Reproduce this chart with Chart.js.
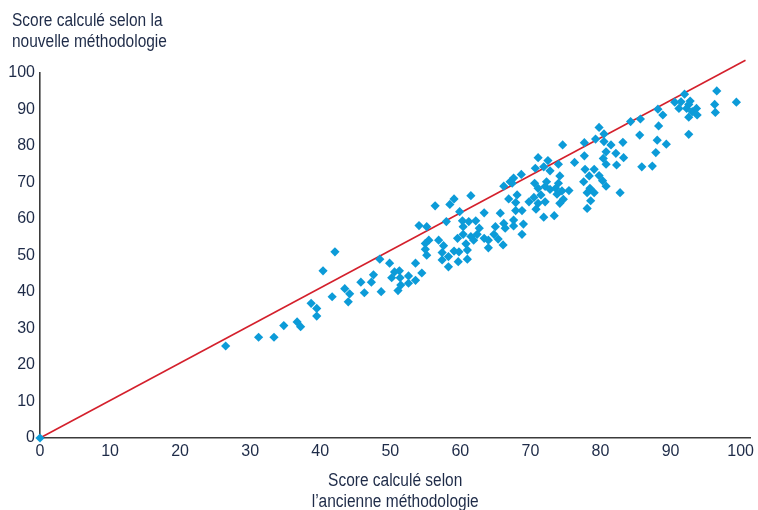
<!DOCTYPE html>
<html>
<head>
<meta charset="utf-8">
<script src="https://cdn.jsdelivr.net/npm/chart.js@4"></script>
<style>
  html, body { margin: 0; padding: 0; background: #fff; }
  #wrap { width: 758px; height: 510px; }
</style>
</head>
<body>
<div id="wrap"><canvas id="chart" width="758" height="510"></canvas></div>
<script>
// Score per country: old methodology (x) vs new methodology (y)
const oldScores = [
  0,
  26.5, 31.2, 33.4, 34.8, 36.7, 37.2, 38.7, 39.5, 39.5, 40.4,
  42.1, 41.7, 43.5, 44.2, 44.0, 45.8, 46.3, 47.3, 47.6, 48.5,
  48.7, 49.9, 50.6, 51.3, 50.2, 51.4, 51.5, 51.1, 52.6, 52.6,
  53.6, 53.6, 54.5, 55.0, 55.2, 55.0, 55.5, 54.1, 55.2, 56.4,
  56.9, 57.4, 57.4, 57.6, 58.0, 58.3, 58.3, 58.5, 59.1, 59.1,
  59.6, 59.8, 59.7, 59.9, 60.3, 60.4, 60.4, 60.8, 61.0, 61.2,
  61.0, 61.5, 61.5, 61.9, 62.2, 62.4, 62.7, 63.4, 63.4, 64.0,
  64.0, 64.8, 65.0, 65.4, 65.7, 66.1, 66.2, 66.2, 66.4, 79.8,
  80.5, 79.3, 80.5, 77.7, 74.6, 81.5, 83.2, 80.8, 82.2, 77.7,
  80.4, 83.3, 71.1, 72.5, 74.0, 76.3, 80.8, 82.3, 70.7, 71.9,
  72.8, 77.8, 79.1, 68.7, 67.6, 67.1, 67.4, 74.2, 78.4, 79.8,
  77.6, 80.3, 72.3, 70.6, 74.0, 80.8, 71.1, 72.1, 72.8, 73.6,
  74.5, 75.5, 78.5, 78.1, 79.1, 68.1, 66.9, 69.8, 70.5, 71.5,
  73.8, 74.7, 72.1, 71.1, 74.2, 82.8, 78.6, 67.9, 70.8, 68.8,
  67.9, 78.1, 71.9, 73.4, 67.6, 69.0, 67.6, 68.8, 96.6, 92.0,
  90.6, 91.5, 92.8, 92.6, 92.3, 91.2, 93.1, 93.7, 93.8, 92.6,
  96.3, 96.4, 99.4, 88.2, 88.9, 85.7, 84.3, 88.3, 85.6, 92.6,
  88.1, 89.4, 87.9, 85.9, 87.4
];
const newScores = [
  0,
  25.2, 27.6, 27.6, 30.8, 31.8, 30.5, 36.9, 35.5, 33.4, 45.8,
  51.0, 38.7, 40.9, 39.5, 37.3, 42.7, 39.8, 42.7, 44.7, 49.0,
  40.1, 47.9, 45.5, 45.8, 43.9, 43.9, 41.9, 40.4, 44.4, 42.4,
  47.9, 43.2, 45.2, 53.3, 50.1, 51.7, 54.2, 58.2, 57.9, 63.6,
  54.2, 50.8, 48.8, 52.7, 59.3, 49.7, 46.9, 64.0, 65.5, 51.2,
  54.7, 51.0, 48.3, 62.0, 59.5, 57.9, 55.8, 53.2, 49.0, 59.3,
  51.5, 66.4, 55.2, 54.2, 59.5, 55.8, 57.5, 61.7, 54.7, 52.1,
  54.2, 55.8, 57.9, 54.5, 61.6, 52.9, 58.8, 69.0, 57.5, 85.1,
  83.3, 81.9, 81.2, 80.9, 80.3, 80.3, 81.0, 78.4, 78.0, 77.3,
  76.6, 76.8, 76.8, 76.0, 75.0, 75.5, 75.0, 74.8, 73.9, 74.3,
  73.2, 73.6, 73.6, 72.2, 71.2, 70.2, 69.8, 71.8, 71.8, 71.9,
  70.2, 70.5, 70.2, 69.8, 69.8, 69.0, 68.4, 68.9, 68.1, 68.4,
  67.7, 67.8, 68.4, 67.2, 67.2, 66.6, 65.5, 64.7, 65.9, 66.6,
  66.8, 65.4, 64.7, 64.3, 64.3, 67.2, 65.0, 64.5, 62.7, 62.3,
  62.3, 62.9, 60.5, 60.9, 59.7, 58.6, 58.1, 55.8, 95.1, 94.2,
  92.0, 92.1, 92.3, 91.4, 90.3, 90.3, 89.4, 90.3, 88.5, 87.9,
  91.4, 89.2, 92.0, 90.1, 88.5, 87.4, 86.7, 85.5, 83.0, 83.2,
  81.6, 80.5, 78.2, 74.3, 74.5
];

// Reference line (drawn in red)
const lineX = [0, 100.7];
const lineY = [0, 103.5];

const xTicks = [0, 10, 20, 30, 40, 50, 60, 70, 80, 90, 100];
const yTicks = [0, 10, 20, 30, 40, 50, 60, 70, 80, 90, 100];

const yTitle = ['Score calculé selon la', 'nouvelle méthodologie'];
const xTitle = ['Score calculé selon', 'l\u2019ancienne méthodologie'];

const FONT = "'Liberation Sans', sans-serif";
const TEXT = '#1e2b48';
const BLUE = '#0c9bd8';
const RED = '#d4202c';
const AXIS = '#3b3b3b';
const SQUEEZE = 0.86; // the original uses a condensed face

const points = oldScores.map((x, i) => ({ x: x, y: newScores[i] }));
const linePts = lineX.map((x, i) => ({ x: x, y: lineY[i] }));

// write a line of text squeezed horizontally around its anchor
function narrowText(ctx, text, x, y, align) {
  ctx.save();
  ctx.translate(x, y);
  ctx.scale(SQUEEZE, 1);
  ctx.textAlign = align;
  ctx.fillText(text, 0, 0);
  ctx.restore();
}

// axis titles drawn by hand, the y one sits horizontally above the axis
const titlesPlugin = {
  id: 'titles',
  afterDraw(chart) {
    const ctx = chart.ctx;
    const area = chart.chartArea;
    ctx.save();
    ctx.fillStyle = TEXT;
    ctx.font = '18px ' + FONT;
    ctx.textBaseline = 'alphabetic';
    narrowText(ctx, yTitle[0], 12, 26, 'left');
    narrowText(ctx, yTitle[1], 12, 47, 'left');
    const cx = (area.left + area.right) / 2;
    narrowText(ctx, xTitle[0], cx, 486, 'center');
    narrowText(ctx, xTitle[1], cx, 507, 'center');
    ctx.restore();
  }
};

new Chart(document.getElementById('chart'), {
  type: 'scatter',
  data: {
    datasets: [
      {
        label: 'Pays',
        data: points,
        pointStyle: 'rectRot',
        pointRadius: 4.6,
        pointHoverRadius: 4.6,
        pointBorderWidth: 0,
        backgroundColor: BLUE,
        borderColor: BLUE,
        clip: false,
        order: 0,
      },
      {
        label: 'Ligne',
        type: 'line',
        data: linePts,
        borderColor: RED,
        borderWidth: 1.6,
        pointRadius: 0,
        fill: false,
        clip: false,
        order: 1,
      }
    ]
  },
  options: {
    responsive: false,
    maintainAspectRatio: false,
    devicePixelRatio: 1,
    animation: false,
    layout: {
      padding: { top: 73, right: 4, left: 0, bottom: 0 }
    },
    plugins: {
      legend: { display: false },
      tooltip: { enabled: false },
      title: { display: false }
    },
    scales: {
      x: {
        type: 'linear',
        min: 0,
        max: 101.4,
        afterFit: function (scale) { scale.height = 72; },
        afterBuildTicks: function (scale) {
          scale.ticks = xTicks.map(v => ({ value: v }));
        },
        ticks: {
          color: TEXT,
          font: { family: FONT, size: 16 },
          padding: 4,
          maxRotation: 0,
          autoSkip: false,
        },
        grid: { display: false, drawTicks: false },
        border: { display: true, color: AXIS, width: 1.6 },
      },
      y: {
        type: 'linear',
        min: 0,
        max: 100,
        afterFit: function (scale) { scale.width = 40; },
        afterBuildTicks: function (scale) {
          scale.ticks = yTicks.map(v => ({ value: v }));
        },
        ticks: {
          color: TEXT,
          font: { family: FONT, size: 16 },
          padding: 5,
          autoSkip: false,
        },
        grid: { display: false, drawTicks: false },
        border: { display: true, color: AXIS, width: 1.6 },
      }
    }
  },
  plugins: [titlesPlugin]
});
</script>
</body>
</html>
